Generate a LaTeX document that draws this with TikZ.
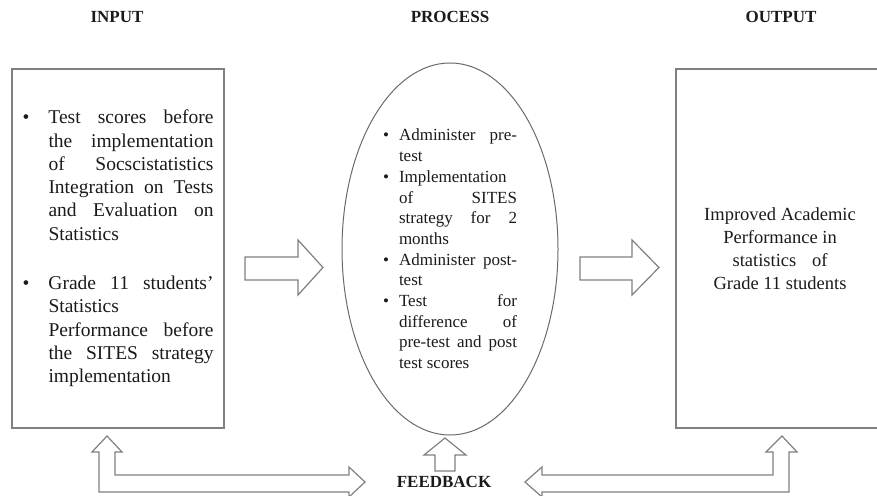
\documentclass[tikz,border=0pt]{standalone}
\usepackage{fontspec}
\setmainfont{Liberation Serif}
\usetikzlibrary{shapes.geometric}

% helpers for the hand-justified bullet lists
\newcommand{\jl}[2]{\makebox[#1][s]{#2}}
\newcommand{\itembul}[1]{\makebox[#1][l]{•}}
\newcommand{\hangsp}[1]{\hspace*{#1}}

\definecolor{inkc}{HTML}{1A1A1A}
\definecolor{framec}{HTML}{808080}
\definecolor{ovalc}{HTML}{6A6A6A}

\begin{document}
\begin{tikzpicture}[x=1pt,y=-1pt,
  head/.style={font=\fontsize{17}{20}\selectfont\bfseries, text=inkc, inner sep=0},
  panel/.style={draw=framec, line width=1.3pt, inner sep=0, text=inkc},
  oval/.style={ellipse, draw=ovalc, line width=1pt, inner sep=0, text=inkc},
  blockarrow/.style={draw=framec, line width=1.2pt, fill=white, line join=miter}
]
\useasboundingbox (0,0) rectangle (877,495);
\clip (0,0) rectangle (877,495);

% column headings
\node[head] (hin)  at (117,17) {INPUT};
\node[head] (hpro) at (450,17) {PROCESS};
\node[head] (hout) at (781,17) {OUTPUT};

% input panel
\node[panel, minimum width=212, minimum height=359, align=left,
      font=\fontsize{19.5}{23.3}\selectfont] (input) at (118,248.5) {%
\itembul{26pt}\jl{165pt}{Test scores before}\\
\hangsp{26pt}\jl{165pt}{the implementation}\\
\hangsp{26pt}\jl{165pt}{of Socscistatistics}\\
\hangsp{26pt}\jl{165pt}{Integration on Tests}\\
\hangsp{26pt}\jl{165pt}{and Evaluation on}\\
\hangsp{26pt}Statistics\\[26pt]
\itembul{26pt}\jl{165pt}{Grade 11 students’}\\
\hangsp{26pt}Statistics\\
\hangsp{26pt}\jl{165pt}{Performance before}\\
\hangsp{26pt}\jl{165pt}{the SITES strategy}\\
\hangsp{26pt}implementation};

% process oval
\node[oval, minimum width=216, minimum height=372, align=left,
      font=\fontsize{17}{20.7}\selectfont] (process) at (450,249) {%
\itembul{16pt}\jl{118pt}{Administer pre-}\\
\hangsp{16pt}test\\
\itembul{16pt}Implementation\\
\hangsp{16pt}\jl{118pt}{of SITES}\\
\hangsp{16pt}\jl{118pt}{strategy for 2}\\
\hangsp{16pt}months\\
\itembul{16pt}\jl{118pt}{Administer post-}\\
\hangsp{16pt}test\\
\itembul{16pt}\jl{118pt}{Test for}\\
\hangsp{16pt}\jl{118pt}{difference of}\\
\hangsp{16pt}\jl{118pt}{pre-test and post}\\
\hangsp{16pt}test scores};

% output panel (runs past the right edge)
\node[panel, minimum width=208, minimum height=359, align=center,
      font=\fontsize{18.5}{23}\selectfont] (output) at (780,248.5) {%
Improved Academic\\
Performance in\\
statistics\hspace{0.85em}of\\
Grade 11 students};

\node[head] (feedback) at (444,482) {FEEDBACK};

% input -> process
\draw[blockarrow] (245,257) -- (298,257) -- (298,240) -- (323,267.5)
  -- (298,295) -- (298,280) -- (245,280) -- cycle;
% process -> output
\draw[blockarrow] (580,257) -- (632,257) -- (632,240) -- (659,267.5)
  -- (632,295) -- (632,280) -- (580,280) -- cycle;

% feedback loop back to the input
\draw[blockarrow] (107,436) -- (122,452) -- (115,452) -- (115,475)
  -- (349,475) -- (349,467) -- (365,482) -- (349,497) -- (349,492)
  -- (99,492) -- (99,452) -- (92,452) -- cycle;
% feedback loop back to the output
\draw[blockarrow] (782,436) -- (797,452) -- (789,452) -- (789,492)
  -- (542,492) -- (542,497) -- (525,482) -- (542,467) -- (542,475)
  -- (773,475) -- (773,452) -- (766,452) -- cycle;
% feedback into the process
\draw[blockarrow] (445,438) -- (466,455) -- (455,455) -- (455,471)
  -- (435,471) -- (435,455) -- (424,455) -- cycle;
\end{tikzpicture}
\end{document}
